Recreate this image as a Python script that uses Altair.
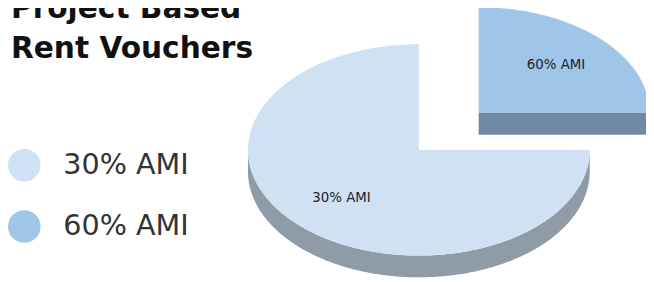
import numpy as np
import pandas as pd
import altair as alt

# ---- data ----
categories = ["30% AMI", "60% AMI"]
shares = [75, 25]
title_lines = ["Project Based", "Rent Vouchers"]

# ---- styles / layout ----
top_colors = ["#CFE1F2", "#9FC5E8"]
side_colors = ["#8F9CA8", "#6F89A2"]
explode = [0.0, 0.495]          # in radius units, along the slice's mid angle
RX, RY, DEPTH = 173.0, 107.0, 22.0   # px
CX, CY = 416.0, 142.0                # chart coords of the pie centre
W, H = 646, 274
LABEL_R = 0.64

d = DEPTH / RY
x_dom = [-CX / RX, (W - CX) / RX]
y_dom = [-(H - CY) / RY, CY / RY]
xs_scale = alt.Scale(domain=x_dom, nice=False, zero=False)
ys_scale = alt.Scale(domain=y_dom, nice=False, zero=False)


def slice_angles():
    total = float(sum(shares))
    a = 90.0
    out = []
    for s in shares:
        span = 360.0 * s / total
        out.append((a, a + span))
        a += span
    return out


rows_top, rows_lab = [], []
side_tables = []
for i, (cat, (a0, a1)) in enumerate(zip(categories, slice_angles())):
    mid = np.radians((a0 + a1) / 2)
    ox, oy = explode[i] * np.cos(mid), explode[i] * np.sin(mid)
    th = np.radians(np.linspace(a0, a1, int(abs(a1 - a0) * 2) + 2))
    px = np.concatenate([[0.0], np.cos(th), [0.0]]) + ox
    py = np.concatenate([[0.0], np.sin(th), [0.0]]) + oy
    for k, (x, y) in enumerate(zip(px, py)):
        rows_top.append(dict(cat=cat, k=k, x=x, y=y))
    rows_lab.append(dict(cat=cat, x=ox + LABEL_R * np.cos(mid), y=oy + LABEL_R * np.sin(mid)))

    # visible side walls
    srows = []
    poly = 0
    for kk in range(-1, 3):
        lo, hi = max(a0, 180 + 360 * kk), min(a1, 360 + 360 * kk)
        if hi - lo > 1e-6:
            t = np.radians(np.linspace(lo, hi, int((hi - lo) * 2) + 2))
            wx = np.concatenate([np.cos(t), np.cos(t)[::-1]]) + ox
            wy = np.concatenate([np.sin(t), np.sin(t)[::-1] - d]) + oy
            for k, (x, y) in enumerate(zip(wx, wy)):
                srows.append(dict(poly=poly, k=k, x=x, y=y))
            poly += 1
    for ang, vis in ((a0, np.cos(np.radians(a0)) > 1e-6), (a1, np.cos(np.radians(a1)) < -1e-6)):
        if vis:
            c, s = np.cos(np.radians(ang)), np.sin(np.radians(ang))
            for k, (x, y) in enumerate([(0, 0), (c, s), (c, s - d), (0, -d)]):
                srows.append(dict(poly=poly, k=k, x=x + ox, y=y + oy))
            poly += 1
    side_tables.append(pd.DataFrame(srows))

top_df = pd.DataFrame(rows_top)
lab_df = pd.DataFrame(rows_lab)

layers = []
for i, sdf in enumerate(side_tables):
    if len(sdf) == 0:
        continue
    layers.append(
        alt.Chart(sdf).mark_line(fill=side_colors[i], strokeWidth=0).encode(
            x=alt.X("x:Q", scale=xs_scale, axis=None),
            y=alt.Y("y:Q", scale=ys_scale, axis=None),
            order=alt.Order("k:Q"),
            detail="poly:N",
        )
    )

tops = alt.Chart(top_df).mark_line(strokeWidth=0).encode(
    x=alt.X("x:Q", scale=xs_scale, axis=None),
    y=alt.Y("y:Q", scale=ys_scale, axis=None),
    order=alt.Order("k:Q"),
    fill=alt.Fill(
        "cat:N",
        scale=alt.Scale(domain=categories, range=top_colors),
        legend=alt.Legend(
            title=None,
            orient="none",
            legendX=0,
            legendY=141,
            symbolType="circle",
            symbolSize=1089,
            symbolStrokeWidth=0,
            symbolOpacity=1,
            labelFont="DejaVu Sans",
            labelFontSize=29,
            labelColor="#333333",
            labelOffset=23,
            rowPadding=29,
            padding=0,
        ),
    ),
)
layers.append(tops)

labels = alt.Chart(lab_df).mark_text(
    font="DejaVu Sans", fontSize=13.5, color="#222222", align="center", baseline="middle"
).encode(
    x=alt.X("x:Q", scale=xs_scale, axis=None),
    y=alt.Y("y:Q", scale=ys_scale, axis=None),
    text="cat:N",
)
layers.append(labels)

title = alt.Chart(pd.DataFrame({"n": [0]})).mark_text(
    font="DejaVu Sans", fontSize=30, fontWeight="bold", color="#111111",
    align="left", baseline="alphabetic", lineHeight=41,
).encode(
    x=alt.value(3),
    y=alt.value(8),
    text=alt.value(title_lines),
)
layers.append(title)

chart = alt.layer(*layers).properties(
    width=W, height=H, autosize=alt.AutoSizeParams(type="none"), padding=0, background="white"
).configure_view(stroke=None)

chart.save("out.html", embed_options={"renderer": "svg", "actions": False})
